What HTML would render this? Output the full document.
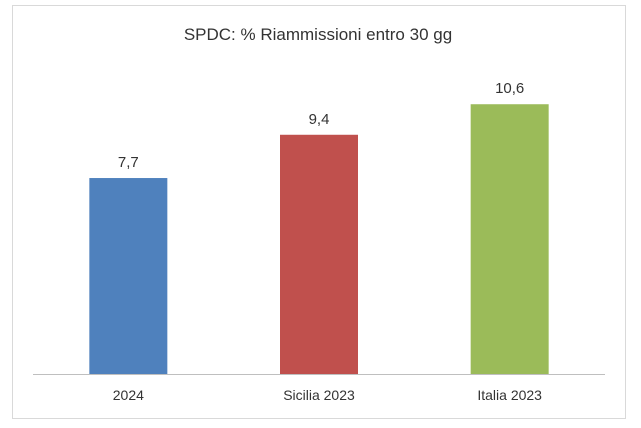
<!DOCTYPE html>
<html><head><meta charset="utf-8"><style>
body{margin:0;background:#fff;}
svg{display:block;font-family:"Liberation Sans",sans-serif;}
</style></head><body>
<svg id="c" width="641" height="428">
<rect x="12.5" y="5.5" width="613" height="413" fill="#fff" stroke="#d9d9d9"/>
<text x="318" y="40" text-anchor="middle" font-size="17" fill="#333">SPDC: % Riammissioni entro 30 gg</text>
<line x1="33" y1="374.5" x2="605" y2="374.5" stroke="#bfbfbf"/>
<g id="bars"></g>
</svg>
<script>
const categories=["2024","Sicilia 2023","Italia 2023"];
const values=[7.7,9.4,10.6];
const labels=["7,7","9,4","10,6"];
const colors=["#4f81bd","#c0504d","#9bbb59"];
const x0=33,x1=605,base=374,pxPerUnit=25.45,bw=78;
const bandW=(x1-x0)/categories.length;
const xc=i=>x0+bandW*(i+0.5);
const y=v=>base-v*pxPerUnit;
const g=document.getElementById('bars');
const ns="http://www.w3.org/2000/svg";
categories.forEach((c,i)=>{
 const r=document.createElementNS(ns,'rect');
 
 
 r.setAttribute('x',xc(i)-bw/2);r.setAttribute('y',y(values[i]));
 r.setAttribute('width',bw);r.setAttribute('height',base-y(values[i]));
 r.setAttribute('fill',colors[i]);g.appendChild(r);
 const t=document.createElementNS(ns,'text');
 
 
 t.setAttribute('x',xc(i));t.setAttribute('y',y(values[i])-11);
 t.setAttribute('text-anchor','middle');t.setAttribute('font-size','15');t.setAttribute('fill','#333');
 t.textContent=labels[i];g.appendChild(t);
 const l=document.createElementNS(ns,'text');
 
 
 l.setAttribute('x',xc(i));l.setAttribute('y',400);
 l.setAttribute('text-anchor','middle');l.setAttribute('font-size','14');l.setAttribute('fill','#333');
 l.textContent=c;g.appendChild(l);
});
</script>
</body></html>
